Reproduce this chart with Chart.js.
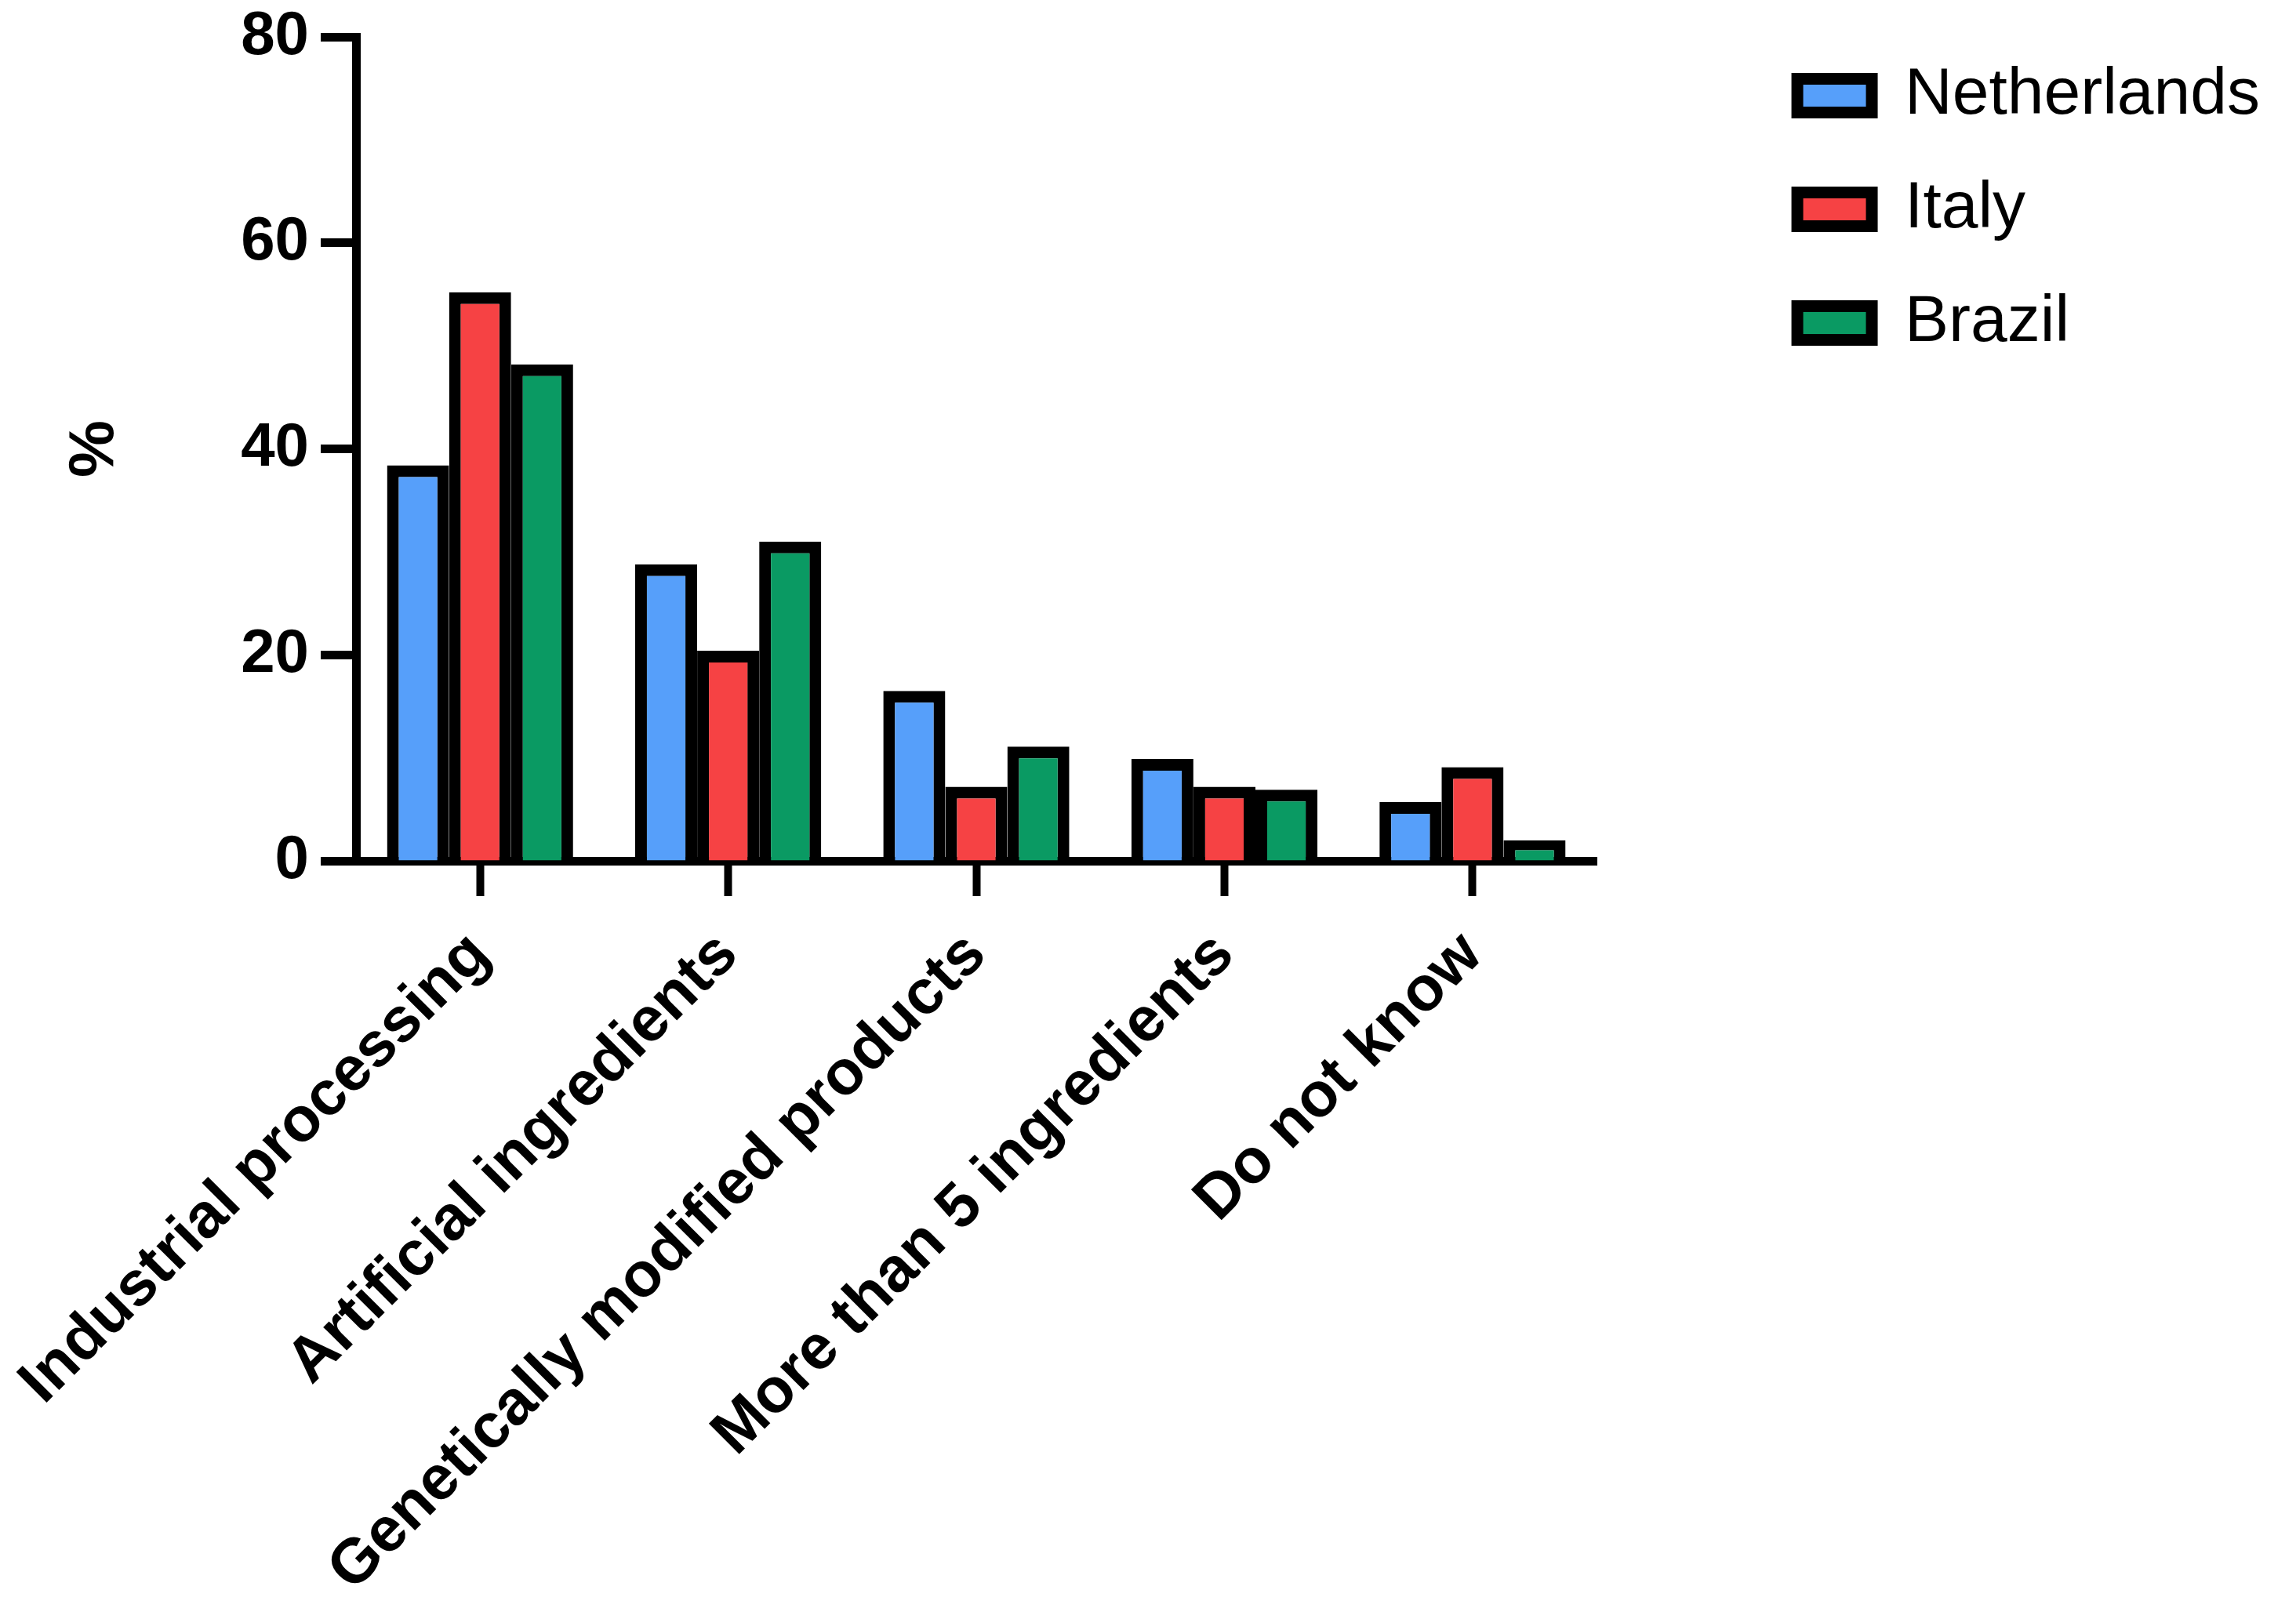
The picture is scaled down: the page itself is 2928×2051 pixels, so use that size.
<!DOCTYPE html>
<html>
<head>
<meta charset="utf-8">
<title>Ultra-processed food: what does it mean?</title>
<script src="https://cdn.jsdelivr.net/npm/chart.js@4.4.1/dist/chart.umd.min.js"></script>
<style>
  html, body { margin: 0; padding: 0; background: #fff; }
  #wrap { width: 2928px; height: 2051px; }
</style>
</head>
<body>
<div id="wrap"><canvas id="foodChart"></canvas></div>
<script>
// data (% of respondents)
const categories = [
  "Industrial processing",
  "Artificial ingredients",
  "Genetically modified products",
  "More than 5 ingredients",
  "Do not know"
];
const netherlands = [38.4, 28.8, 16.5, 9.9, 5.7];
const italy = [55.2, 20.4, 7.2, 7.2, 9.1];
const brazil = [48.2, 31.0, 11.1, 6.9, 2.0];
const yTicks = [0, 20, 40, 60, 80];

Chart.defaults.font.family = "'Liberation Sans', Arial, sans-serif";
Chart.defaults.color = "#000";

// push the legend further right, like the Prism layout
const legendShift = {
  id: "legendShift",
  afterLayout(chart) {
    const lg = chart.legend;
    if (!lg) return;
    lg.left += 195;
    lg.right += 195;
  }
};

const ctx = document.getElementById("foodChart").getContext("2d");

new Chart(ctx, {
  type: "bar",
  data: {
    labels: categories,
    datasets: [
      { label: "Netherlands", data: netherlands, backgroundColor: "#569FFA" },
      { label: "Italy", data: italy, backgroundColor: "#F64244" },
      { label: "Brazil", data: brazil, backgroundColor: "#0A9A63" }
    ]
  },
  options: {
    responsive: true,
    maintainAspectRatio: false,
    animation: false,
    layout: {
      padding: { top: 19, left: 0, right: 231, bottom: 0 }
    },
    datasets: {
      bar: {
        borderColor: "#000",
        borderWidth: 15,
        categoryPercentage: 0.75,
        barPercentage: 1.0
      }
    },
    plugins: {
      tooltip: { enabled: false },
      legend: {
        position: "right",
        align: "start",
        labels: {
          boxWidth: 95,
          boxHeight: 43,
          padding: 61,
          color: "#000",
          font: { size: 84 }
        }
      }
    },
    scales: {
      x: {
        z: 1,
        grid: {
          display: true,
          drawOnChartArea: false,
          offset: false,
          tickLength: 45,
          tickWidth: 10,
          tickColor: "#000"
        },
        border: { display: true, color: "#000", width: 11 },
        ticks: {
          autoSkip: false,
          maxRotation: 45,
          minRotation: 45,
          padding: 28,
          color: "#000",
          font: { size: 80, weight: "bold" }
        },
        afterFit(scale) {
          scale.height = 953;
          scale.paddingLeft = 0;
          scale.paddingRight = 0;
        }
      },
      y: {
        min: yTicks[0],
        max: yTicks[yTicks.length - 1],
        grid: {
          display: true,
          drawOnChartArea: false,
          tickLength: 45,
          tickWidth: 11,
          tickColor: "#000"
        },
        border: { display: true, color: "#000", width: 11 },
        ticks: {
          stepSize: yTicks[1] - yTicks[0],
          padding: 15,
          color: "#000",
          font: { size: 78, weight: "bold" }
        },
        title: {
          display: true,
          text: "%",
          color: "#000",
          font: { size: 82, weight: "bold" },
          padding: { top: 72, bottom: 0 }
        },
        afterFit(scale) {
          scale.width = 454;
          scale.paddingTop = 47;
          scale.paddingBottom = 0;
        }
      }
    }
  },
  plugins: [legendShift]
});
</script>
</body>
</html>
